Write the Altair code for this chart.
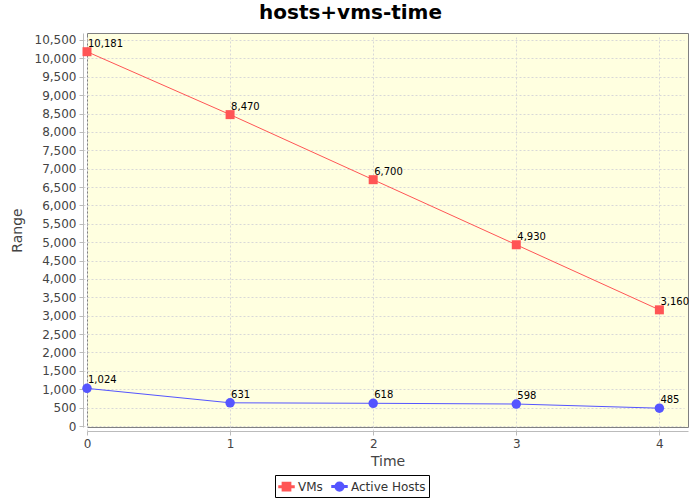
import altair as alt
import pandas as pd

times = [0, 1, 2, 3, 4]
vms = [10181, 8470, 6700, 4930, 3160]
hosts = [1024, 631, 618, 598, 485]
series = ["VMs", "Active Hosts"]
colors = ["#ff5555", "#5555ff"]

rows = []
for t, v in zip(times, vms):
    rows.append({"Time": t, "Value": v, "Series": "VMs"})
for t, h in zip(times, hosts):
    rows.append({"Time": t, "Value": h, "Series": "Active Hosts"})
df = pd.DataFrame(rows)

FONT = "DejaVu Sans"

x = alt.X("Time:Q", scale=alt.Scale(domain=[0, 4.2], nice=False, zero=False),
          axis=alt.Axis(title="Time", values=times, format="d", labelFlush=False))
y = alt.Y("Value:Q", scale=alt.Scale(domain=[-27, 10690], nice=False, zero=False),
          axis=alt.Axis(title="Range", values=list(range(0, 10501, 500)), format=",d",
                        labelFlush=False))

sq_path = "M-1,-0.1H1V0.1H-1Z M-0.55,-0.55H0.55V0.55H-0.55Z"
ci_path = "M-1,-0.1H1V0.1H-1Z M0.58,0A0.58,0.58 0 1,1 -0.58,0A0.58,0.58 0 1,1 0.58,0Z"

cscale = alt.Scale(domain=series, range=colors)

legend = alt.Legend(
    title=None, orient="none", legendX=188, legendY=442, direction="horizontal",
    strokeColor="black", fillColor="white", padding=3, columnPadding=6,
    labelOffset=3, labelFont=FONT, labelFontSize=12, labelColor="#333333",
    symbolSize=225, symbolOpacity=1,
)

base = alt.Chart(df).encode(x=x, y=y)

lines = base.mark_line(strokeWidth=1).encode(
    stroke=alt.Stroke("Series:N", scale=cscale, legend=None), detail="Series:N")
squares = base.transform_filter(alt.datum.Series == "VMs").mark_square(
    size=81, opacity=1, color=colors[0])
circles = base.transform_filter(alt.datum.Series == "Active Hosts").mark_circle(
    size=90, opacity=1, color=colors[1])
labels = base.mark_text(align="left", baseline="alphabetic", dx=1, dy=-5,
                        fontSize=10, font=FONT, color="black").encode(
    text=alt.Text("Value:Q", format=",")
)
# legend-only layer: its points sit far outside the plot and are clipped away
legend_layer = base.transform_calculate(Value="-1000000").mark_point(
    filled=True, opacity=1, clip=True).encode(
    color=alt.Color("Series:N", scale=cscale, legend=legend),
    shape=alt.Shape("Series:N", scale=alt.Scale(domain=series, range=[sq_path, ci_path]),
                    legend=legend),
)

chart = alt.layer(legend_layer, lines, squares, circles, labels).properties(
    width=601, height=394,
    title=alt.TitleParams("hosts+vms-time", font=FONT, fontSize=20, fontWeight="bold",
                          color="black", anchor="middle", offset=10, dx=-37),
    autosize=alt.AutoSizeParams(type="none"),
    padding={"left": 87, "top": 33, "right": 12, "bottom": 73},
).configure_view(
    fill="#ffffe0", stroke="#808080", strokeWidth=1
).configure_axis(
    labelFont=FONT, labelFontSize=12, labelColor="#444444",
    titleFont=FONT, titleFontSize=14, titleFontWeight="normal", titleColor="#444444",
    grid=True, gridColor="#d8d8d8", gridDash=[2, 2], gridWidth=1,
    domainColor="#bbbbbb", tickColor="#bbbbbb", tickSize=4, offset=4,
    labelPadding=3,
).configure_axisY(titlePadding=10).configure_axisX(titlePadding=5)

chart.save("out.html", embed_options={"renderer": "svg", "actions": False})
